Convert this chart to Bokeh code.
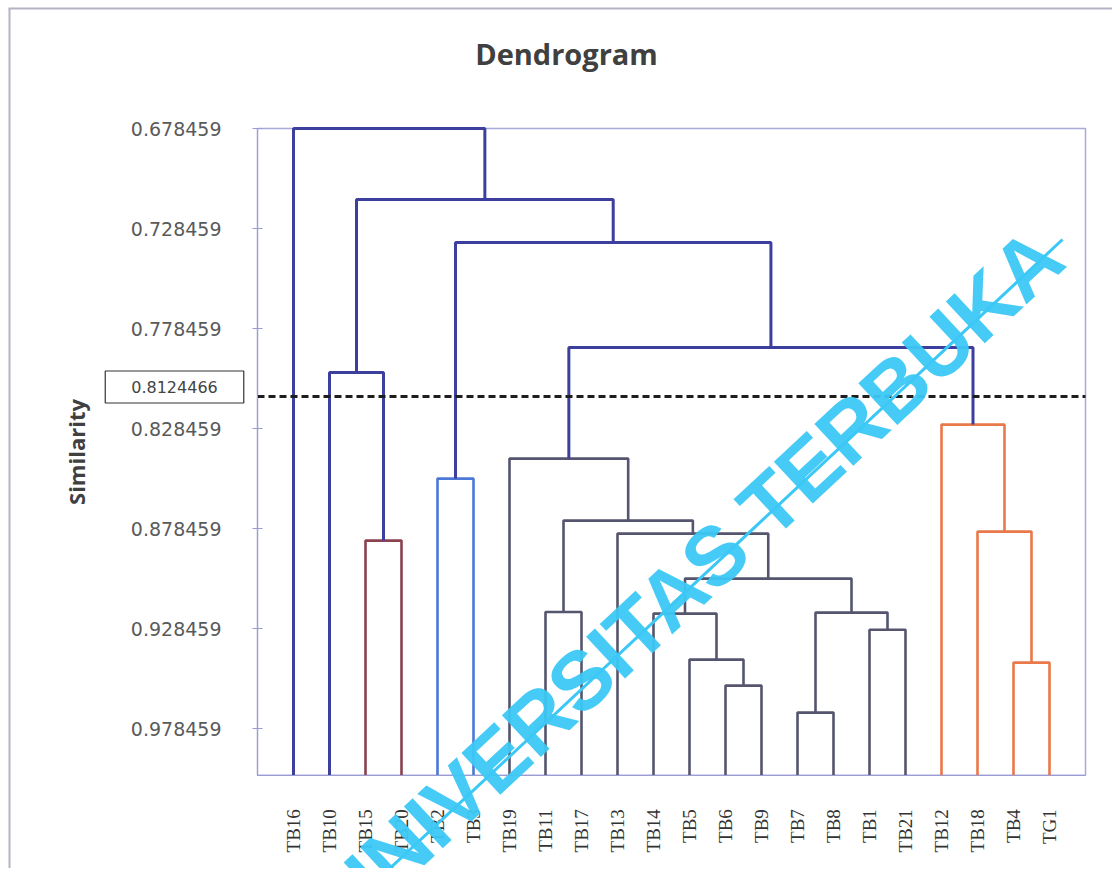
import math
from bokeh.plotting import figure
from bokeh.models import (Range1d, FixedTicker, PrintfTickFormatter, Label,
                          ColumnDataSource, Arrow)
from bokeh.embed import file_html
from bokeh.resources import INLINE

# ---------------- data ----------------
leaves = ["TB16", "TB10", "TB15", "TB20", "TB2", "TB3", "TB19", "TB11", "TB17",
          "TB13", "TB14", "TB5", "TB6", "TB9", "TB7", "TB8", "TB1", "TB21",
          "TB12", "TB18", "TB4", "TG1"]

merge_names = ["M1", "M2", "M3", "M4", "M5", "M6", "M7", "M8", "M9", "M10", "M11",
               "M12", "M13", "M14", "M15", "M16", "M17", "M18", "M19", "M20", "M21"]
merge_left = ["TB6", "TB7", "TB4", "TB5", "TB1", "TB14", "M2", "TB11", "M6", "TB15",
              "TB13", "TB18", "M8", "TB2", "TB19", "TB12", "TB10", "M15", "M14",
              "M17", "TB16"]
merge_right = ["TB9", "TB8", "TG1", "M1", "TB21", "M4", "M5", "TB17", "M7", "TB20",
               "M9", "M3", "M11", "TB3", "M13", "M12", "M10", "M16", "M18", "M19",
               "M20"]
merge_similarity = [0.9570, 0.9705, 0.9455, 0.9440, 0.9291, 0.9210, 0.9205, 0.9202,
                    0.9035, 0.8845, 0.8810, 0.8800, 0.8745, 0.8535, 0.8435, 0.8265,
                    0.8005, 0.7880, 0.7355, 0.7140, 0.678459]

cut_similarity = 0.8124466
cut_label = "0.8124466"
y_ticks = [0.678459, 0.728459, 0.778459, 0.828459, 0.878459, 0.928459, 0.978459]
y_bottom = 1.0018
y_top = 0.678459

title_text = "Dendrogram"
y_label = "Similarity"
watermark = "UNIVERSITAS TERBUKA"

# ---------------- page geometry (pixels) ----------------
W, H = 1112, 868
PLOT_LEFT_PX, PLOT_TOP_PX = 257, 128
PX_PER_LEAF, PX_PER_UNIT = 36.0, 2000.0


def sy(py):  # screen y measured from the bottom of the canvas
    return H - py


x_start = -1 - PLOT_LEFT_PX / PX_PER_LEAF
x_end = x_start + W / PX_PER_LEAF
y_end = y_top - PLOT_TOP_PX / PX_PER_UNIT
y_start = y_end + H / PX_PER_UNIT

# ---------------- layout of the tree ----------------
pos = {name: float(i) for i, name in enumerate(leaves)}
height = {name: y_bottom for name in leaves}
parent = {}
for n, l, r, s in zip(merge_names, merge_left, merge_right, merge_similarity):
    pos[n] = (pos[l] + pos[r]) / 2.0
    height[n] = s
    parent[l] = n
    parent[r] = n


def cluster_root(n):
    while n in parent and height[parent[n]] >= cut_similarity:
        n = parent[n]
    return n


TOP_COLOR = "#3d3f9f"
palette = ["#8c4150", "#4d78d8", "#55556f", "#e9784a"]

roots = sorted({cluster_root(n) for n in merge_names if height[n] >= cut_similarity},
               key=lambda k: pos[k])
root_color = {r: palette[i % len(palette)] for i, r in enumerate(roots)}

xs, ys, colors, widths = [], [], [], []
for n, l, r in zip(merge_names, merge_left, merge_right):
    h = height[n]
    xs.append([pos[l], pos[l], pos[r], pos[r]])
    ys.append([height[l], h, h, height[r]])
    if h < cut_similarity:
        colors.append(TOP_COLOR)
        widths.append(3)
    else:
        colors.append(root_color[cluster_root(n)])
        widths.append(2.6)

src = ColumnDataSource(dict(xs=xs, ys=ys, color=colors, width=widths))

# ---------------- figure ----------------
p = figure(width=W, height=H, output_backend="svg", toolbar_location=None,
           x_range=Range1d(x_start, x_end), y_range=Range1d(y_start, y_end),
           min_border=0, min_border_left=0, min_border_right=0,
           min_border_top=0, min_border_bottom=0)
p.background_fill_color = "white"
p.border_fill_color = "white"
p.outline_line_color = None
p.xgrid.visible = False
p.ygrid.visible = False

x_lo, x_hi = -1, len(leaves)

# plot area box
p.quad(left=[x_lo], right=[x_hi], top=[y_top], bottom=[y_bottom],
       fill_color=None, line_color="#a9a9dc", line_width=1.5)

p.multi_line(xs="xs", ys="ys", line_color="color", line_width="width", source=src)

# cut line
p.line([x_lo, x_hi], [cut_similarity, cut_similarity], line_color="#1e1e1e",
       line_width=3, line_dash="7 4")

# y axis
ya = p.yaxis[0]
ya.fixed_location = x_lo
ya.bounds = (y_top, y_bottom)
ya.ticker = FixedTicker(ticks=y_ticks)
ya.formatter = PrintfTickFormatter(format="%.6f")
ya.minor_tick_line_color = None
ya.axis_line_color = "#9c9cd4"
ya.major_tick_line_color = "#9c9cd4"
ya.major_tick_in = 5
ya.major_tick_out = 5
ya.major_label_standoff = 31
ya.major_label_text_font = "DejaVu Sans"
ya.major_label_text_font_size = "19px"
ya.major_label_text_color = "#5a5a5a"
ya.axis_label = y_label
ya.axis_label_text_font = "Open Sans"
ya.axis_label_text_font_style = "bold"
ya.axis_label_text_font_size = "22px"
ya.axis_label_text_color = "#404040"
ya.axis_label_standoff = 37

# x axis
xa = p.xaxis[0]
xa.fixed_location = y_bottom
xa.bounds = (x_lo, x_hi)
xa.ticker = FixedTicker(ticks=list(range(len(leaves))))
xa.major_label_overrides = {i: name for i, name in enumerate(leaves)}
xa.major_label_orientation = math.pi / 2
xa.minor_tick_line_color = None
xa.major_tick_line_color = None
xa.axis_line_color = "#9c9cd4"
xa.major_label_standoff = 28
xa.major_label_text_font = "Liberation Serif"
xa.major_label_text_font_size = "19px"
xa.major_label_text_color = "#333333"

# title
p.add_layout(Label(x=566, y=sy(53), x_units="screen", y_units="screen", text=title_text,
                   text_align="center", text_baseline="middle", text_font="Open Sans",
                   text_font_style="bold", text_font_size="29px", text_color="#404040"))

# cut value box
p.add_layout(Label(x=174, y=sy(386.5), x_units="screen", y_units="screen", text=cut_label,
                   text_align="center", text_baseline="middle", text_font="DejaVu Sans",
                   text_font_size="16px", text_color="#444444",
                   border_line_color="#333333", border_line_width=1.2,
                   background_fill_color="white", padding=(26, 10)))

# outer chart border (left and top edges)
p.add_layout(Arrow(end=None, x_start=9, y_start=sy(8), x_end=9, y_end=sy(H + 20),
                   start_units="screen", end_units="screen",
                   line_color="#b4b4c6", line_width=2))
p.add_layout(Arrow(end=None, x_start=8, y_start=sy(8), x_end=W + 20, y_end=sy(8),
                   start_units="screen", end_units="screen",
                   line_color="#b4b4c6", line_width=2))

# watermark
p.add_layout(Label(x=690, y=sy(578), x_units="screen", y_units="screen", text=watermark,
                   angle=0.75, text_align="center", text_baseline="alphabetic",
                   text_font="Liberation Sans", text_font_style="bold",
                   text_font_size="83px", text_color="#3cc8f6", text_alpha=0.95))
p.add_layout(Arrow(end=None, x_start=385, y_start=sy(872), x_end=1062, y_end=sy(239),
                   start_units="screen", end_units="screen",
                   line_color="#3cc8f6", line_width=3))

open("out.html", "w").write(file_html(p, INLINE))
